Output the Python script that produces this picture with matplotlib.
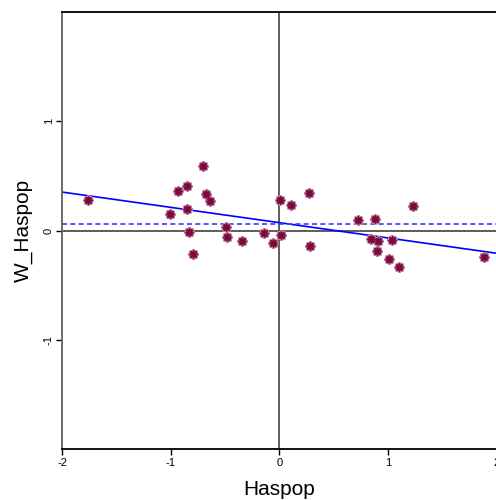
import matplotlib.pyplot as plt
import numpy as np

# valores
haspop = [-1.763, -1.003, -0.929, -0.849, -0.849, -0.699, -0.677, -0.635, -0.831, -0.493,
          -0.484, -0.340, -0.791, -0.138, -0.058, 0.006, 0.105, 0.016, 0.276, 0.285,
          0.721, 0.883, 1.227, 0.844, 0.911, 1.034, 0.896, 1.012, 1.101, 1.883]
w_haspop = [0.280, 0.153, 0.365, 0.411, 0.195, 0.591, 0.335, 0.268, -0.009, 0.031,
            -0.055, -0.094, -0.216, -0.018, -0.109, 0.280, 0.235, -0.042, 0.347, -0.140,
            0.098, 0.110, 0.228, -0.076, -0.094, -0.085, -0.183, -0.258, -0.334, -0.237]
slope = -0.14
intercept = 0.073
w_mean = 0.061

x_ticks = [-2, -1, 0, 1, 2]
y_ticks = [-1, 0, 1]

plt.rcParams['font.family'] = ['Liberation Sans', 'DejaVu Sans']
plt.rcParams['axes.unicode_minus'] = False

fig = plt.figure(figsize=(4.96, 5.0), dpi=100)
ax = fig.add_axes([62 / 496, 0.1014, 434.8 / 496, 0.8746])

ax.set_xlim(-2, 2)
ax.set_ylim(-2, 2)

# ejes por el cero
ax.axvline(0, color='#505050', lw=1.3, zorder=1)
ax.axhline(0, color='#505050', lw=1.3, zorder=1)

# recta de regresion y media
ax.axline((0, intercept), slope=slope, color='#0000ff', lw=1.2, zorder=2)
ax.axhline(w_mean, color='#3a3aff', lw=1.2, ls=(0, (3, 2)), zorder=2)

ax.scatter(haspop, w_haspop, marker=(8, 2, 0), s=32, color='#c080a0',
           linewidths=2.2, zorder=3)
ax.scatter(haspop, w_haspop, marker=(8, 2, 0), s=22, color='#7a0a3c',
           linewidths=1.2, zorder=4)

ax.set_xticks(x_ticks)
ax.set_yticks(y_ticks)
ax.tick_params(axis='both', labelsize=8, length=4, width=1, direction='out', pad=2)
for lbl in ax.get_yticklabels():
    lbl.set_rotation(90)
    lbl.set_va('center')

ax.spines['right'].set_visible(False)
ax.spines['left'].set_color('#606060')
ax.spines['left'].set_linewidth(1.3)
ax.spines['bottom'].set_linewidth(1.3)
ax.spines['top'].set_linewidth(1.3)

ax.set_xlabel('Haspop', fontsize=15, labelpad=9)
ax.set_ylabel('W_Haspop', fontsize=15, labelpad=8)

fig.savefig('out.png', dpi=100)
